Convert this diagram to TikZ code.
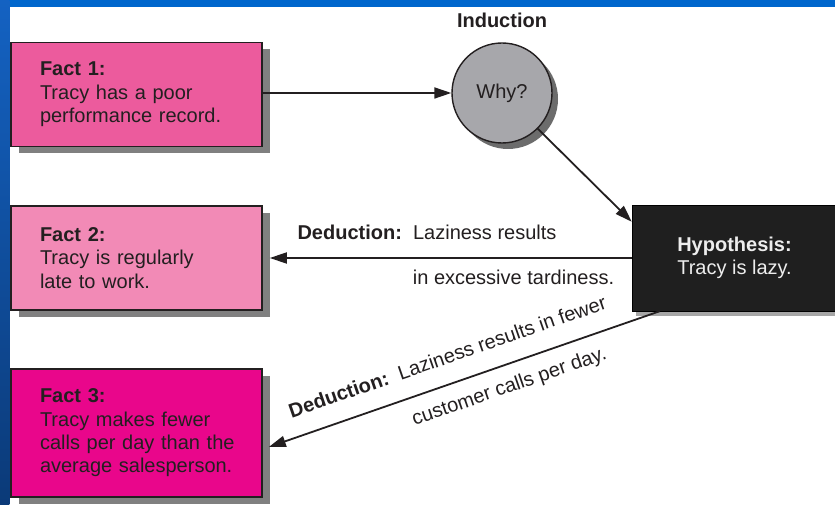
\documentclass[tikz,border=0pt]{standalone}
\usepackage{fontspec}
\setmainfont{Liberation Sans}
\usetikzlibrary{arrows.meta,shadows,calc}

\definecolor{slideblue}{HTML}{0066CC}
\definecolor{stripetop}{HTML}{1462C2}
\definecolor{stripebot}{HTML}{0B3A78}
\definecolor{factone}{HTML}{EC5B9D}
\definecolor{facttwo}{HTML}{F28AB6}
\definecolor{factthree}{HTML}{E9068B}
\definecolor{whygray}{HTML}{A7A7AB}
\definecolor{hypfill}{HTML}{1F1F1F}
\definecolor{hyptext}{HTML}{EDEDED}
\definecolor{ink}{HTML}{231F20}

\newcommand{\bodyfont}{\fontsize{20}{23.3}\selectfont}

\tikzset{
  fact/.style={draw=ink, line width=1.6pt, text width=193pt, inner xsep=29pt,
    inner ysep=0pt, align=left, text=ink, font=\bodyfont,
    drop shadow={shadow xshift=8pt, shadow yshift=-7pt, fill=gray, opacity=1}},
  conn/.style={draw=ink, line width=1.8pt, -{Triangle[length=17pt,width=11pt]}},
  lbl/.style={text=ink, font=\bodyfont, inner sep=0pt, anchor=base}
}

\begin{document}
\begin{tikzpicture}[x=1pt,y=1pt]
\useasboundingbox (0,0) rectangle (835,505);
% slide background
\fill[white] (0,0) rectangle (835,505);
\fill[slideblue] (0,497.7) rectangle (835,505);
\shade[top color=stripetop, bottom color=stripebot] (0,0) rectangle (9.3,505);

% facts
\node[fact, fill=factone, minimum height=104pt] (f1) at (136.5,410.5)
  {\textbf{Fact 1:}\\Tracy has a poor\\performance record.};
\node[fact, fill=facttwo, minimum height=104pt] (f2) at (136.5,247)
  {\textbf{Fact 2:}\\Tracy is regularly\\late to work.};
\node[fact, fill=factthree, minimum height=128pt] (f3) at (136.5,72)
  {\textbf{Fact 3:}\\Tracy makes fewer\\\mbox{calls per day than the}\\\mbox{average salesperson.}};

% induction step
\node[lbl, font=\bodyfont\bfseries] (ind) at (502,477) {Induction};
\node[circle, draw=ink, line width=1.4pt, fill=whygray, minimum size=100pt,
  text=ink, font=\bodyfont,
  drop shadow={shadow xshift=6pt, shadow yshift=-6pt, fill=gray!85!black, opacity=1}]
  (why) at (502,412) {Why?};

% hypothesis
\node[draw=black, fill=hypfill, text=hyptext, minimum width=205pt,
  minimum height=106pt, align=center, font=\bodyfont,
  drop shadow={shadow xshift=4pt, shadow yshift=-5pt, fill=gray!70, opacity=1}]
  (hyp) at (734.5,247) {\textbf{Hypothesis:}\\Tracy is lazy.};

% connectors
\draw[conn] (f1.east |- why.west) -- (why.west);
\draw[conn] (why.-45) -- ($(hyp.north west)+(0,-17)$);
\draw[conn] (hyp.west) -- ($(f2.east)+(7,0)$);
\draw[conn] ($(hyp.south west)+(28,0)$) -- ($(f3.east)+(6,-14)$);

% deduction labels
\node[lbl] (d1) at (427,265) {\textbf{Deduction:}\ \ Laziness results};
\node[lbl] (d1b) at (513.5,220) {in excessive tardiness.};
\node[lbl, rotate=19.13] (d2) at (449.7,141.7)
  {\textbf{Deduction:}\ \ Laziness results in fewer};
\node[lbl, rotate=19.13] (d2b) at (511.1,112.7) {customer calls per day.};
\end{tikzpicture}
\end{document}
